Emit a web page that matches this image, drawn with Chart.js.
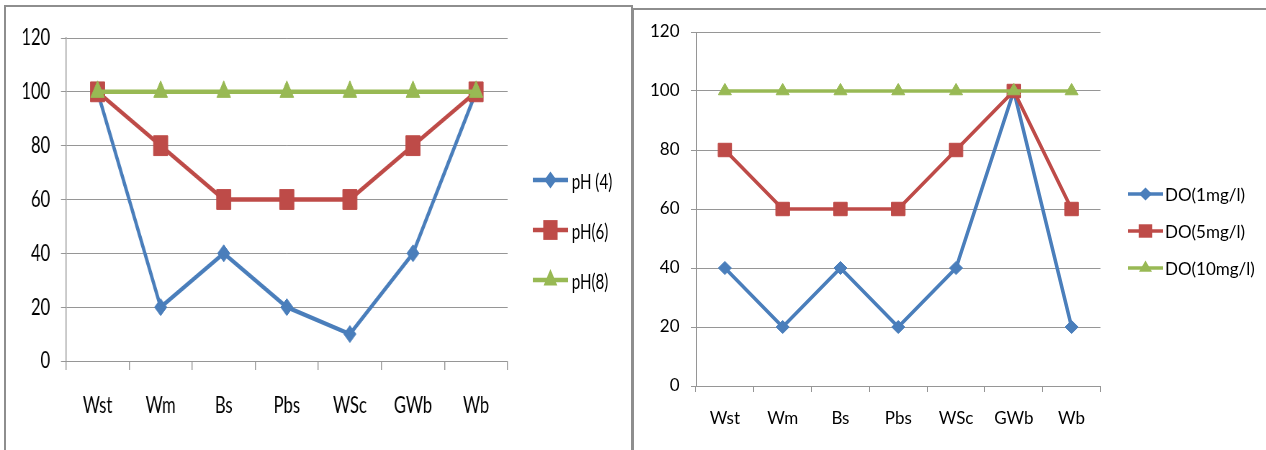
<!DOCTYPE html>
<html>
<head>
<meta charset="utf-8">
<title>pH / DO</title>
<style>
    body { margin: 0; background: #fff; overflow: hidden; width: 1266px; height: 450px; position: relative; font-family: Lato, "Open Sans", sans-serif; }
    .panel { position: absolute; box-sizing: border-box; border: 2px solid #8e8e8e; background: #fff; }
    .wrap { position: absolute; top: 0; height: 450px; transform-origin: 0 0; }
    .wrap canvas { position: absolute; left: 0; top: 0; }
    .item { position: absolute; display: flex; align-items: center; white-space: nowrap; color: #000; }
    .item svg { display: block; }
</style>
</head>
<body>
<div class="panel" style="left:4px;top:5px;width:629px;height:480px"></div>
<div class="panel" style="left:632px;top:8px;width:700px;height:480px"></div>
<div class="wrap" id="wrap1" style="left:0;width:900px;transform:scaleX(0.72)">
    <canvas id="chart1" width="720" height="450"></canvas>
</div>
<div class="wrap" id="wrap2" style="left:640px;width:626px">
    <canvas id="chart2" width="471" height="450"></canvas>
</div>
<script src="https://cdn.jsdelivr.net/npm/chart.js@4.4.6/dist/chart.umd.min.js"></script>
<script>
// sampling sites
const categories = ["Wst", "Wm", "Bs", "Pbs", "WSc", "GWb", "Wb"]
const yMin = 0
const yMax = 120
const yStep = 20

// left chart
const phLabels = ["pH (4)", "pH(6)", "pH(8)"]
const ph4 = [100, 20, 40, 20, 10, 40, 100]
const ph6 = [100, 80, 60, 60, 60, 80, 100]
const ph8 = [100, 100, 100, 100, 100, 100, 100]

// right chart
const doLabels = ["DO(1mg/l)", "DO(5mg/l)", "DO(10mg/l)"]
const do1 = [40, 20, 40, 20, 40, 100, 20]
const do5 = [80, 60, 60, 60, 80, 100, 60]
const do10 = [100, 100, 100, 100, 100, 100, 100]

const COLORS = ["#4a7ebb", "#be4b48", "#98b954"]
const MARKERS = ["rectRot", "rect", "triangle"]
const GRID = "#969696"

function makeChart(id, labels, series, o) {
    const font = { family: "Lato", size: o.fontSize }
    const config = {
        type: "line",
        data: {
            labels: categories,
            datasets: series.map((data, i) => ({
                label: labels[i],
                data: data,
                borderColor: COLORS[i],
                backgroundColor: COLORS[i],
                borderWidth: o.lineWidth,
                pointStyle: MARKERS[i],
                pointRadius: o.radius[i],
                pointBorderWidth: 1,
                pointBorderColor: COLORS[i],
                pointBackgroundColor: COLORS[i],
                tension: 0,
                fill: false,
                order: 3 - i,
            })),
        },
        options: {
            responsive: false,
            animation: false,
            events: [],
            layout: { padding: o.padding },
            plugins: {
                legend: { display: false },
                tooltip: { enabled: false },
            },
            scales: {
                x: {
                    offset: true,
                    grid: { offset: true, drawOnChartArea: false, tickLength: o.xTick, color: GRID, lineWidth: o.vLine },
                    border: { color: GRID, width: 1 },
                    ticks: { font: font, color: "#000", padding: o.xPad, maxRotation: 0 },
                    afterFit: s => { s.height = o.xHeight },
                },
                y: {
                    min: yMin,
                    max: yMax,
                    ticks: { stepSize: yStep, font: font, color: "#000", padding: o.yPad },
                    grid: { color: GRID, tickLength: o.yTick, lineWidth: 1 },
                    border: { color: GRID, width: o.vLine },
                    afterFit: s => { s.width = o.yWidth },
                },
            },
        },
    }
    new Chart(document.getElementById(id), config)
    makeLegend(document.getElementById(o.wrap), labels, o)
}

function marker(kind, cx, cy, r, color) {
    if (kind === "rectRot") {
        return `<polygon points="${cx},${cy - r} ${cx + r},${cy} ${cx},${cy + r} ${cx - r},${cy}" fill="${color}"/>`
    }
    if (kind === "rect") {
        const s = r * Math.SQRT1_2
        return `<rect x="${cx - s}" y="${cy - s}" width="${2 * s}" height="${2 * s}" fill="${color}"/>`
    }
    const h = r * Math.sqrt(3) / 2
    return `<polygon points="${cx},${cy - r} ${cx + h},${cy + r / 2} ${cx - h},${cy + r / 2}" fill="${color}"/>`
}

function makeLegend(wrap, labels, o) {
    labels.forEach((text, i) => {
        const h = 40
        const w = o.legend.lineW
        const el = document.createElement("div")
        el.className = "item"
        el.style.left = o.legend.x + "px"
        el.style.top = (o.legend.rows[i] - h / 2) + "px"
        el.style.height = h + "px"
        el.style.fontSize = o.legend.fontSize + "px"
        el.innerHTML =
            `<svg width="${w}" height="${h}"><line x1="0" y1="${h / 2}" x2="${w}" y2="${h / 2}" stroke="${COLORS[i]}" stroke-width="${o.lineWidth}"/>` +
            marker(MARKERS[i], w / 2, h / 2, o.radius[i], COLORS[i]) +
            `</svg><span style="margin-left:${o.legend.gap}px">${text}</span>`
        wrap.appendChild(el)
    })
}

document.addEventListener("DOMContentLoaded", () => {
    // left chart is drawn wide then squeezed horizontally (scaleX 0.72)
    makeChart("chart1", phLabels, [ph4, ph6, ph8], {
        wrap: "wrap1",
        fontSize: 23,
        lineWidth: 4.5,
        radius: [8.5, 14, 11],
        padding: { top: 38, right: 14.4, left: 0, bottom: 0 },
        yWidth: 91.7,
        xHeight: 89,
        xTick: 9,
        yTick: 7,
        xPad: 22,
        yPad: 15,
        vLine: 1.4,
        legend: { x: 740, lineW: 49, gap: 5, rows: [180, 230, 280], fontSize: 21 },
    })
    makeChart("chart2", doLabels, [do1, do5, do10], {
        wrap: "wrap2",
        fontSize: 17,
        lineWidth: 3.5,
        radius: [6.5, 9.5, 7.5],
        padding: { top: 32, right: 10, left: 0, bottom: 0 },
        yWidth: 56,
        xHeight: 64,
        xTick: 6,
        yTick: 5,
        xPad: 16,
        yPad: 11.5,
        vLine: 1,
        legend: { x: 488, lineW: 35, gap: 2, rows: [194, 231, 268], fontSize: 17 },
    })
})
</script>
</body>
</html>
